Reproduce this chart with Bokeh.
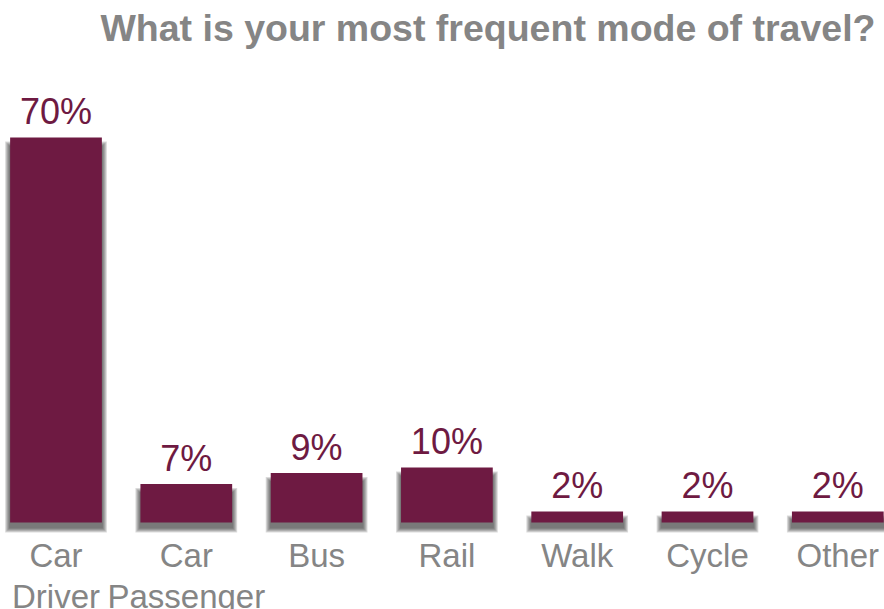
from bokeh.plotting import figure
from bokeh.models import Range1d, Label, ColumnDataSource
from bokeh.core.properties import value
from bokeh.embed import file_html
from bokeh.resources import INLINE

# ---- data ----
categories = ["Car Driver", "Car Passenger", "Bus", "Rail", "Walk", "Cycle", "Other"]
tick_labels = ["Car\nDriver", "Car\nPassenger", "Bus", "Rail", "Walk", "Cycle", "Other"]
percentages = [70, 7, 9, 10, 2, 2, 2]
title_text = "What is your most frequent mode of travel?"

# ---- layout constants (pixels) ----
W, H = 884, 609
X_PX = 130.3          # pixels per category
X0_PX = 55.5          # pixel position of first category centre
Y_PX = 5.5            # pixels per percent
Y0_PX = 522           # pixel row of 0 %

x_start = -X0_PX / X_PX
x_end = x_start + W / X_PX
y_end = Y0_PX / Y_PX
y_start = -(H - Y0_PX) / Y_PX

BAR = "#6e1a42"
GRAY = "#858585"
FONT = "Liberation Sans"

idx = list(range(len(categories)))
src = ColumnDataSource(dict(
    x=idx,
    top=percentages,
    cat=categories,
    tick=tick_labels,
    lab=[f"{v}%" for v in percentages],
))

p = figure(width=W, height=H, output_backend="svg", toolbar_location=None,
           x_range=Range1d(x_start, x_end), y_range=Range1d(y_start, y_end),
           min_border=0, outline_line_color=None)
p.xaxis.visible = False
p.yaxis.visible = False
p.grid.visible = False
p.background_fill_color = "white"
p.border_fill_color = "white"

bar_w = 0.704

# soft drop shadow built from layered translucent bars
for e in [4, 3, 2, 1, 0]:
    ex = (1 + e) / X_PX
    src_s = ColumnDataSource(dict(
        x=idx,
        top=[v - (8 - e) / Y_PX for v in percentages],
    ))
    p.vbar(x="x", top="top", source=src_s, width=bar_w + 2 * ex,
           bottom=-(6 + e) / Y_PX,
           fill_color="#222222", fill_alpha=0.17, line_color=None)

p.vbar(x="x", top="top", bottom=0, width=bar_w, source=src,
       fill_color=BAR, line_color=None)

# value labels
p.text(x="x", y="top", text="lab", source=src, text_align="center",
       text_baseline="alphabetic", y_offset=-26,
       text_font=value(FONT), text_font_size="36px", text_color=BAR)

# category labels
p.text(x="x", y=0, text="tick", source=src, text_align="center",
       text_baseline="top", y_offset=14, text_line_height=1.11,
       text_font=value(FONT), text_font_size="33px", text_color=GRAY)

# title
p.add_layout(Label(x=x_end, y=y_end, text=title_text, text_align="right",
                   text_baseline="alphabetic", x_offset=-9, y_offset=-27,
                   text_font=FONT, text_font_size="37.5px",
                   text_font_style="bold", text_color=GRAY))

open("out.html", "w").write(file_html(p, INLINE))
